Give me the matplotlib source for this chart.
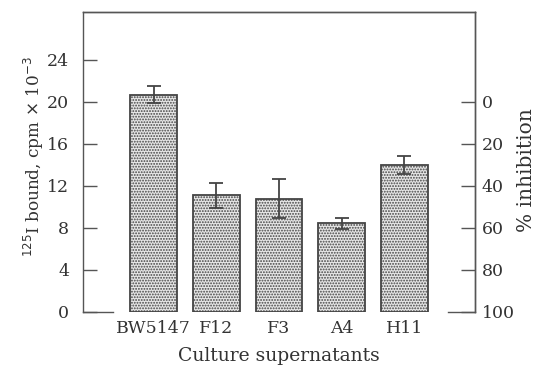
import matplotlib.pyplot as plt
import numpy as np

# Datos
muestras = ['BW5147', 'F12', 'F3', 'A4', 'H11']
unido = [20.7, 11.1, 10.8, 8.45, 14.0]
error = [0.8, 1.15, 1.85, 0.5, 0.85]
ticks_izq = [0, 4, 8, 12, 16, 20, 24]
ticks_der = [0, 20, 40, 60, 80, 100]

plt.rcParams['font.family'] = ['DejaVu Serif']
plt.rcParams['hatch.color'] = '#9a9a9a'
plt.rcParams['hatch.linewidth'] = 0.9
color_txt = '#333333'
color_lin = '#555555'

fig = plt.figure(figsize=(5.37, 3.68), dpi=100)
ax = fig.add_axes([83 / 537, 1 - 312 / 368, (475 - 83) / 537, (312 - 12) / 368])

x = np.arange(len(muestras))
ax.bar(x, unido, width=0.75, color='#e6e6e6', edgecolor='#444444',
       linewidth=1.3, hatch='......', zorder=2)
ax.errorbar(x, unido, yerr=error, fmt='none', ecolor='#444444',
            elinewidth=1.3, capsize=5, capthick=1.3, zorder=3)

ax.set_xlim(-1.13, 5.13)
ax.set_ylim(0, 28.57)
ax.set_yticks(ticks_izq)
ax.set_xticks(x)
ax.set_xticklabels(muestras, fontsize=12.5, color=color_txt)
ax.tick_params(axis='x', length=0, pad=6)
ax.tick_params(axis='y', direction='in', length=10, width=1, colors=color_lin,
               labelcolor=color_txt, labelsize=12.5, pad=10)
ax.set_ylabel(r'$^{125}$I bound, cpm $\times$ 10$^{-3}$', fontsize=12.2,
              color=color_txt)
ax.yaxis.set_label_coords(-0.094, 0.517)
ax.set_xlabel('Culture supernatants', fontsize=13.5, color=color_txt, labelpad=7)

for s in ax.spines.values():
    s.set_color(color_lin)
    s.set_linewidth(1)
ax.spines['bottom'].set_bounds(-1.13, -0.65)

# Eje derecho: % inhibicion (0% = 20, 100% = 0)
ax2 = ax.twinx()
ax2.set_ylim(100, 100 - 5 * 28.57)
ax2.set_yticks(ticks_der)
ax2.tick_params(axis='y', direction='in', length=10, width=1, colors=color_lin,
                labelcolor=color_txt, labelsize=12.5, pad=5)
ax2.set_ylabel('% inhibition', fontsize=14.5, color=color_txt)
ax2.yaxis.set_label_coords(1.108, 0.473)
for s in ax2.spines.values():
    s.set_color(color_lin)
    s.set_linewidth(1)
ax2.spines['left'].set_visible(False)
ax2.spines['bottom'].set_bounds(4.70, 5.13)

fig.savefig('out.png', dpi=100)
